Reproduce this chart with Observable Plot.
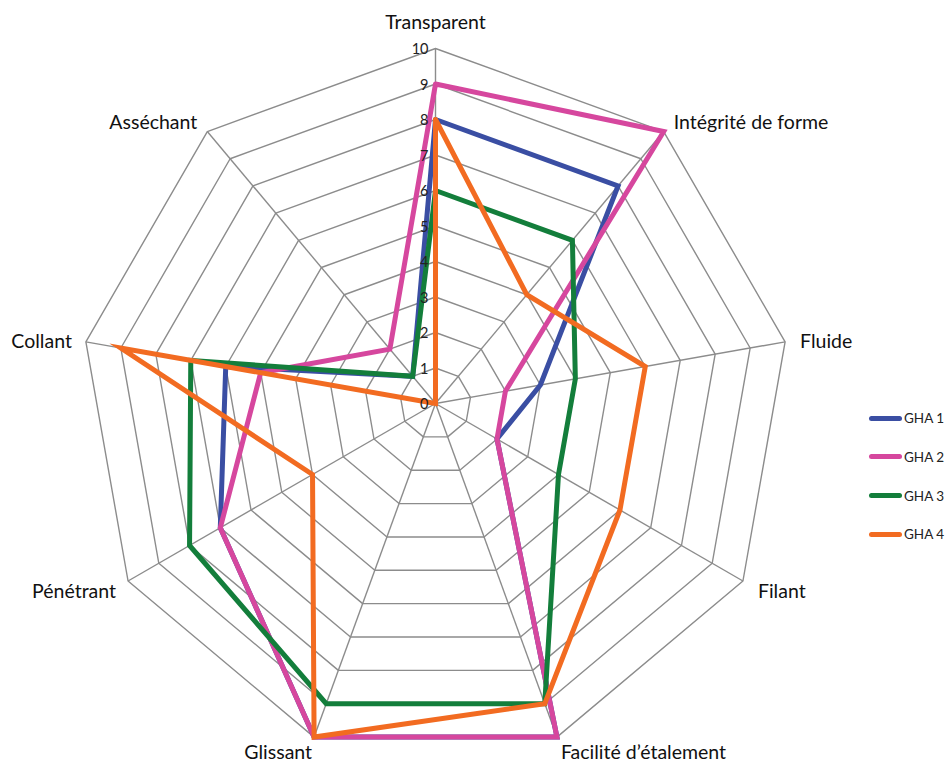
<!DOCTYPE html>
<html>
<head>
<meta charset="utf-8">
<script src="https://cdn.jsdelivr.net/npm/d3@7"></script>
<script src="https://cdn.jsdelivr.net/npm/@observablehq/plot@0.6"></script>
<style>
  html, body { margin: 0; padding: 0; background: #fff; }
  #wrap { position: relative; width: 946px; height: 765px; font-family: Lato, "Open Sans", sans-serif; }
  #legend { position: absolute; left: 869px; top: 408px; font-size: 13.5px; color: #222; }
  #legend .item { display: flex; align-items: center; height: 20px; margin-bottom: 18.8px; }
  #legend .sw { width: 33px; height: 5px; border-radius: 3px; margin-right: 2px; }
</style>
</head>
<body>
<div id="wrap"></div>
<script>
// Attributes, clockwise from the top
const attributes = ["Transparent", "Intégrité de forme", "Fluide", "Filant", "Facilité d’étalement", "Glissant", "Pénétrant", "Collant", "Asséchant"];

// Scores per product (0–10)
const gha1 = [8, 8, 3, 2, 10, 10, 7, 6, 1];
const gha2 = [9, 10, 2, 2, 10, 10, 7, 5, 2];
const gha3 = [6, 6, 4, 4, 9, 9, 8, 7, 1];
const gha4 = [8, 4, 6, 6, 9, 10, 4, 9, 0];

const seriesNames = ["GHA 1", "GHA 2", "GHA 3", "GHA 4"];
const seriesColors = ["#3a4ea3", "#d6479e", "#137e3b", "#f26b21"];
const levels = [0, 1, 2, 3, 4, 5, 6, 7, 8, 9, 10];

const n = attributes.length;
const angle = i => (2 * Math.PI * i) / n;
const px = (r, i) => r * Math.sin(angle(i));
const py = (r, i) => r * Math.cos(angle(i));

// Grid rings (closed polygons) and spokes
const rings = [];
for (const lv of levels.slice(1)) {
  for (let i = 0; i <= n; i++) rings.push({level: lv, x: px(lv, i % n), y: py(lv, i % n)});
}
const spokes = attributes.map((a, i) => ({x1: 0, y1: 0, x2: px(10, i), y2: py(10, i)}));

// Series as closed paths
const allSeries = [gha1, gha2, gha3, gha4];
const lines = [];
allSeries.forEach((vals, s) => {
  for (let i = 0; i <= n; i++) {
    const k = i % n;
    lines.push({series: seriesNames[s], x: px(vals[k], k), y: py(vals[k], k)});
  }
});

// Axis labels with placement by direction
const labelPlacement = [
  {anchor: "middle", dx: 0, dy: -26},
  {anchor: "start", dx: 10, dy: -9},
  {anchor: "start", dx: 15, dy: 0},
  {anchor: "start", dx: 15, dy: 11},
  {anchor: "start", dx: 4, dy: 16},
  {anchor: "end", dx: -2, dy: 16},
  {anchor: "end", dx: -12, dy: 11},
  {anchor: "end", dx: -14, dy: 0},
  {anchor: "end", dx: -10, dy: -9}
];
const labels = attributes.map((a, i) => ({name: a, x: px(10, i), y: py(10, i), ...labelPlacement[i]}));

const W = 946, H = 765, cx = 435, cy = 403, R = 355;
const u = R / 10;

const plot = Plot.plot({
  width: W,
  height: H,
  margin: 0,
  x: {domain: [-cx / u, (W - cx) / u], range: [0, W], axis: null},
  y: {domain: [-(H - cy) / u, cy / u], range: [H, 0], axis: null},
  color: {domain: seriesNames, range: seriesColors},
  style: {fontFamily: "Lato, 'Open Sans', sans-serif", background: "#fff"},
  marks: [
    Plot.link(spokes, {x1: "x1", y1: "y1", x2: "x2", y2: "y2", stroke: "#8c8c8c", strokeWidth: 1.4}),
    Plot.line(rings, {x: "x", y: "y", z: "level", stroke: "#8c8c8c", strokeWidth: 1.4}),
    Plot.line(lines, {x: "x", y: "y", z: "series", stroke: "series", strokeWidth: 5, strokeLinejoin: "miter", strokeMiterlimit: 10}),
    Plot.text(levels, {x: 0, y: d => d, text: d => String(d), textAnchor: "end", dx: -7, dy: 1, fontSize: 14.5, fill: "#222"}),
    ...labelPlacement.map((p, i) => Plot.text([labels[i]], {x: "x", y: "y", text: "name", textAnchor: p.anchor, dx: p.dx, dy: p.dy, fontSize: 19.5, fill: "#111"}))
  ]
});

const wrap = document.getElementById("wrap");
wrap.appendChild(plot);

// Line-style legend on the right
const legend = document.createElement("div");
legend.id = "legend";
seriesNames.forEach((name, i) => {
  const item = document.createElement("div");
  item.className = "item";
  const sw = document.createElement("div");
  sw.className = "sw";
  sw.style.background = seriesColors[i];
  const t = document.createElement("span");
  t.textContent = name;
  item.appendChild(sw);
  item.appendChild(t);
  legend.appendChild(item);
});
wrap.appendChild(legend);
</script>
</body>
</html>
